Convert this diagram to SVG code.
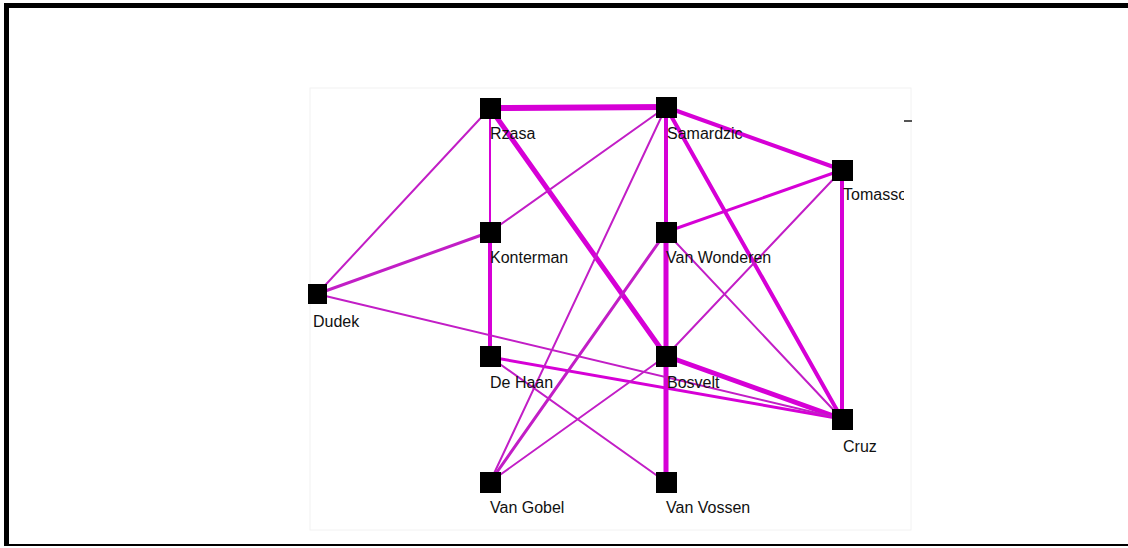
<svg xmlns="http://www.w3.org/2000/svg" width="1128" height="548" viewBox="0 0 1128 548">
  <style>
    .e { stroke: #d600d6; fill: none; stroke-linecap: round; }
    .t { stroke: #c21ec6; }
    .w2 { stroke-width: 2; }
    .w3 { stroke-width: 3; }
    .w4 { stroke-width: 4; }
    .w5 { stroke-width: 5; }
    .w6 { stroke-width: 6; }
    .node rect { fill: #000; }
    .node text { font-family: "Liberation Sans", Arial, sans-serif; font-size: 16px; fill: #111; }
  </style>
  <defs>
    <clipPath id="panel">
      <rect x="300" y="80" width="604" height="460"/>
    </clipPath>
  </defs>

  <!-- window frame -->
  <rect x="0" y="0" width="1128" height="548" fill="#fff"/>
  <rect x="4" y="3" width="1124" height="5" fill="#000"/>
  <rect x="4" y="3" width="5" height="543" fill="#000"/>
  <rect x="4" y="544" width="1124" height="2" fill="#000"/>

  <!-- faint drawing panel -->
  <rect x="310" y="88" width="601" height="442" fill="none" stroke="#f2f2f2" stroke-width="1"/>
  <rect x="904" y="120" width="8" height="2" fill="#555"/>

  <!-- connectors -->
  <g id="edges">
    <line class="e w6" x1="490" y1="108" x2="666" y2="107"/>
    <line class="e w4" x1="666" y1="107" x2="842" y2="170"/>
    <line class="e w4" x1="666" y1="107" x2="666" y2="232"/>
    <line class="e w5" x1="666" y1="232" x2="666" y2="356"/>
    <line class="e w5" x1="666" y1="356" x2="666" y2="482"/>
    <line class="e w5" x1="490" y1="108" x2="666" y2="356"/>
    <line class="e w4" x1="842" y1="170" x2="842" y2="419"/>
    <line class="e w5" x1="666" y1="356" x2="842" y2="419"/>
    <line class="e w3" x1="490" y1="357" x2="842" y2="419"/>
    <line class="e w2" x1="490" y1="108" x2="490" y2="232"/>
    <line class="e w4" x1="490" y1="232" x2="490" y2="357"/>
    <line class="e w4" x1="666" y1="107" x2="842" y2="419"/>
    <line class="e w3" x1="666" y1="232" x2="842" y2="170"/>
    <line class="e t w2" x1="842" y1="170" x2="666" y2="356"/>
    <line class="e t w2" x1="666" y1="232" x2="842" y2="419"/>
    <line class="e t w3" x1="666" y1="232" x2="490" y2="482"/>
    <line class="e t w2" x1="666" y1="107" x2="490" y2="482"/>
    <line class="e t w2" x1="666" y1="356" x2="490" y2="482"/>
    <line class="e t w2" x1="490" y1="357" x2="666" y2="482"/>
    <line class="e t w2" x1="317" y1="294" x2="842" y2="419"/>
    <line class="e t w2" x1="490" y1="232" x2="666" y2="107"/>
    <line class="e t w2" x1="317" y1="294" x2="490" y2="108"/>
    <line class="e t w3" x1="317" y1="294" x2="490" y2="232"/>
  </g>

  <!-- nodes -->
  <g clip-path="url(#panel)">
    <g id="rzasa" class="node"><rect x="480" y="98" width="21" height="21"/><text x="490" y="139">Rzasa</text></g>
    <g id="samardzic" class="node"><rect x="656" y="97" width="21" height="21"/><text x="667" y="139">Samardzic</text></g>
    <g id="tomasson" class="node"><rect x="832" y="160" width="21" height="21"/><text x="843" y="200">Tomasson</text></g>
    <g id="konterman" class="node"><rect x="480" y="222" width="21" height="21"/><text x="490" y="263">Konterman</text></g>
    <g id="van-wonderen" class="node"><rect x="656" y="222" width="21" height="21"/><text x="666" y="263">Van Wonderen</text></g>
    <g id="dudek" class="node"><rect x="308" y="284" width="19" height="20"/><text x="313" y="327">Dudek</text></g>
    <g id="de-haan" class="node"><rect x="480" y="346" width="21" height="21"/><text x="490" y="388">De Haan</text></g>
    <g id="bosvelt" class="node"><rect x="656" y="346" width="21" height="21"/><text x="667" y="388">Bosvelt</text></g>
    <g id="cruz" class="node"><rect x="832" y="409" width="21" height="21"/><text x="843" y="452">Cruz</text></g>
    <g id="van-gobel" class="node"><rect x="480" y="472" width="21" height="21"/><text x="490" y="513">Van Gobel</text></g>
    <g id="van-vossen" class="node"><rect x="656" y="472" width="21" height="21"/><text x="666" y="513">Van Vossen</text></g>
  </g>
</svg>
